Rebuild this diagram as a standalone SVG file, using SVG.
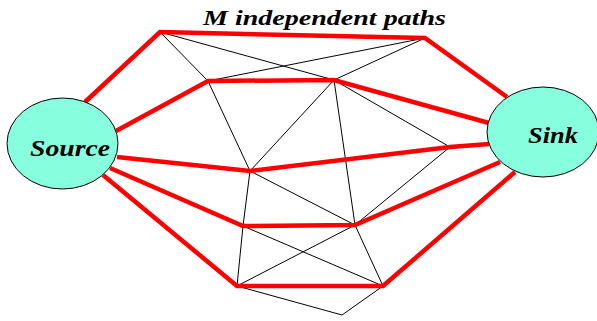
<svg xmlns="http://www.w3.org/2000/svg" width="597" height="321" viewBox="0 0 597 321">
<style>
.thin{stroke:#000;stroke-width:1;fill:none}
.path{stroke:#ff0000;stroke-width:4.5;fill:none;stroke-linecap:butt;stroke-linejoin:miter}
.term{fill:#87FFDE;stroke:#000;stroke-width:1}
.lbl{font-family:"Liberation Serif","Times New Roman",serif;font-weight:bold;font-style:italic;fill:#000}
</style>
<rect width="597" height="321" fill="#fff"/>
<g id="connectors">
  <line class="thin" x1="160" y1="32" x2="208" y2="81"/>
  <line class="thin" x1="160" y1="32" x2="334" y2="80"/>
  <line class="thin" x1="425" y1="38" x2="208" y2="81"/>
  <line class="thin" x1="425" y1="38" x2="334" y2="80"/>
  <line class="thin" x1="208" y1="81" x2="250" y2="171"/>
  <line class="thin" x1="334" y1="80" x2="250" y2="171"/>
  <line class="thin" x1="334" y1="80" x2="355" y2="225"/>
  <line class="thin" x1="334" y1="80" x2="450" y2="147"/>
  <line class="thin" x1="450" y1="147" x2="355" y2="225"/>
  <line class="thin" x1="250" y1="171" x2="243" y2="226"/>
  <line class="thin" x1="243" y1="226" x2="237" y2="286"/>
  <line class="thin" x1="250" y1="171" x2="355" y2="225"/>
  <line class="thin" x1="243" y1="226" x2="383" y2="286"/>
  <line class="thin" x1="237" y1="286" x2="355" y2="225"/>
  <line class="thin" x1="355" y1="225" x2="383" y2="286"/>
  <line class="thin" x1="237" y1="286" x2="342" y2="315"/>
  <line class="thin" x1="342" y1="315" x2="383" y2="286"/>
  <polyline class="path" points="85,102 160,32 425,38 507,97"/>
  <polyline class="path" points="116,131 208,81 334,80 489,123"/>
  <polyline class="path" points="117,157 250,171 450,147 489,144"/>
  <polyline class="path" points="110,168 243,226 355,225 500,162"/>
  <polyline class="path" points="103,175 237,286 383,286 515,172"/>
</g>
<g id="source">
  <ellipse class="term" cx="62.5" cy="143.5" rx="55.5" ry="45.5"/>
  <text class="lbl" x="30" y="156" font-size="24" textLength="80" lengthAdjust="spacingAndGlyphs">Source</text>
</g>
<g id="sink">
  <ellipse class="term" cx="543" cy="132" rx="56" ry="45"/>
  <text class="lbl" x="528" y="143" font-size="24" textLength="50" lengthAdjust="spacingAndGlyphs">Sink</text>
</g>
<g id="title">
  <text class="lbl" x="203" y="25" font-size="21.5" textLength="243" lengthAdjust="spacingAndGlyphs">M independent paths</text>
</g>
</svg>
